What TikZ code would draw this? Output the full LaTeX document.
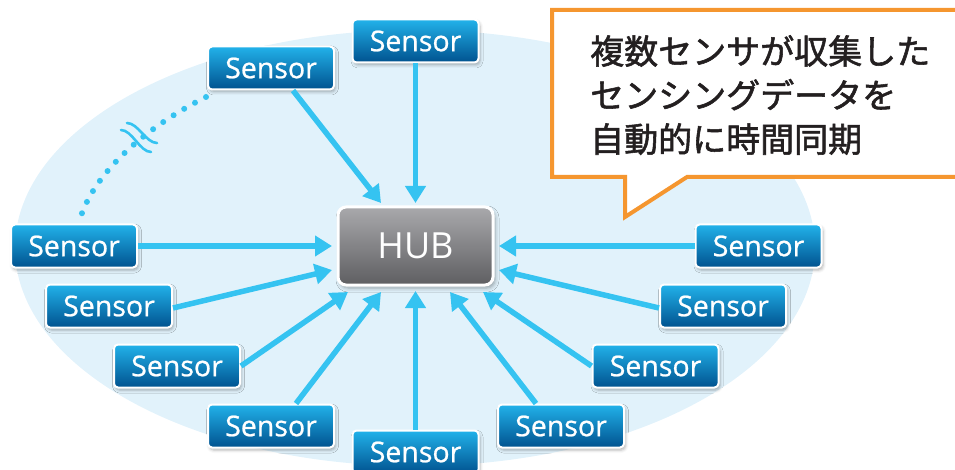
\documentclass[tikz,border=0pt]{standalone}
\usepackage{fontspec}
\setmainfont{Open Sans}
\newfontfamily\jpfont[FakeBold=1.6]{Noto Sans CJK JP}
\newfontfamily\sensorfont[FakeBold=0.8]{Open Sans}
\usetikzlibrary{arrows.meta,shadows.blur,calc}
\definecolor{bgblue}{HTML}{E1F2FB}
\definecolor{arrowblue}{HTML}{35C3F1}
\definecolor{calloutorange}{HTML}{F5962F}
\definecolor{sensortop}{HTML}{22B2EA}
\definecolor{sensormid}{HTML}{0A80C6}
\definecolor{sensorbot}{HTML}{00528F}
\definecolor{hubtop}{HTML}{A9A9AC}
\definecolor{hubbot}{HTML}{5E5E61}
\definecolor{jptext}{HTML}{231F20}
\tikzset{
  sensorbox/.style={rectangle, rounded corners=4pt, draw=white, line width=2pt,
    top color=sensortop, middle color=sensormid, bottom color=sensorbot,
    minimum width=126pt, minimum height=43pt, inner sep=0pt,
    text=white, font=\sensorfont\fontsize{28.5}{30}\selectfont,
    blur shadow={shadow xshift=1.5pt, shadow yshift=-2.5pt, shadow blur radius=3pt, shadow opacity=30}},
  hubbox/.style={rectangle, rounded corners=8pt, draw=white, line width=3pt,
    top color=hubtop, bottom color=hubbot,
    minimum width=155pt, minimum height=78pt, inner sep=0pt,
    text=white, font=\fontsize{36}{40}\selectfont,
    blur shadow={shadow xshift=2pt, shadow yshift=-3pt, shadow blur radius=4pt, shadow opacity=35}},
  link/.style={draw=arrowblue, line width=5.5pt, -{Triangle[length=17pt,width=20pt]}},
  dotlink/.style={draw=arrowblue, line width=6pt, line cap=round, dash pattern=on 0pt off 12.4pt},
  wave/.style={draw=arrowblue, line width=2.6pt, line cap=round},
  jpline/.style={anchor=base west, inner sep=0pt, text=jptext, font=\jpfont\fontsize{34}{40}\selectfont},
}
\begin{document}
\begin{tikzpicture}[x=1pt,y=-1pt]
\useasboundingbox (0,0) rectangle (955,470);
% background ellipse
\fill[bgblue] (415,248) ellipse [x radius=400, y radius=218];
% callout
\draw[calloutorange, line width=4pt, fill=white, line join=miter]
  (552,10) -- (965,10) -- (965,177) -- (687,177) -- (625,217) -- (625,177) -- (552,177) -- cycle;
\node[jpline] (j1) at (590,64) {複数センサが収集した};
\node[jpline] (j2) at (590,108) {センシングデータを};
\node[jpline] (j3) at (590,152) {自動的に時間同期};
% hub
\node[hubbox] (hub) at (415.5,246) {HUB};
% sensors
\node[sensorbox] (sT)  at (415.5,41)  {Sensor};
\node[sensorbox] (sTL) at (271,68)    {Sensor};
\node[sensorbox] (sL1) at (74,246)    {Sensor};
\node[sensorbox] (sL2) at (109,306)   {Sensor};
\node[sensorbox] (sL3) at (177,366)   {Sensor};
\node[sensorbox] (sL4) at (271,426)   {Sensor};
\node[sensorbox] (sB)  at (415.5,452) {Sensor};
\node[sensorbox] (sR1) at (758.5,246) {Sensor};
\node[sensorbox] (sR2) at (723,306)   {Sensor};
\node[sensorbox] (sR3) at (655.5,366) {Sensor};
\node[sensorbox] (sR4) at (561,426)   {Sensor};
% arrow tips near hub
\coordinate (tT)  at (415.5,203);
\coordinate (tTL) at (381,203);
\coordinate (tL1) at (332,246);
\coordinate (tL2) at (332,270);
\coordinate (tL3) at (348,292);
\coordinate (tL4) at (381,292);
\coordinate (tB)  at (415.5,291);
\coordinate (tR1) at (499,246);
\coordinate (tR2) at (499,270);
\coordinate (tR3) at (483,292);
\coordinate (tR4) at (450,292);
% arrows
\draw[link] (sT.south) -- (tT);
\draw[link] ($(sTL.south)+(22,0)$) -- (tTL);
\draw[link] (sL1.east) -- (tL1);
\draw[link] ($(sL2.east)+(0,2)$) -- (tL2);
\draw[link] (sL3.east) -- (tL3);
\draw[link] ($(sL4.north)+(25,0)$) -- (tL4);
\draw[link] (sB.north) -- (tB);
\draw[link] (sR1.west) -- (tR1);
\draw[link] ($(sR2.west)+(0,2)$) -- (tR2);
\draw[link] (sR3.west) -- (tR3);
\draw[link] ($(sR4.north)+(-25,0)$) -- (tR4);
% dotted wireless link
\coordinate (d1) at (206,97);
\coordinate (d2) at (80,219);
\draw[dotlink] (d1) .. controls (150,125) and (95,170) .. (d2);
% wireless wave symbol
\draw[wave] (127,123) .. controls (138,123) and (146,143) .. (157,143);
\draw[wave] (121,130) .. controls (132,130) and (140,152) .. (151,152);
\end{tikzpicture}
\end{document}
